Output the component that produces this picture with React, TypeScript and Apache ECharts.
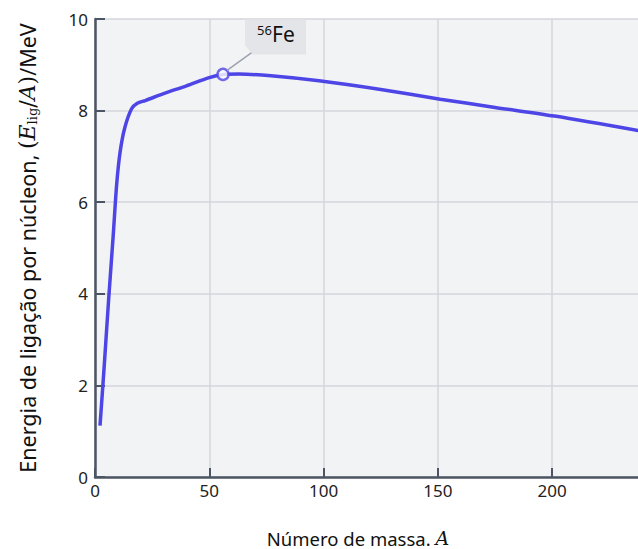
import React, { useEffect, useRef } from "react";
import * as echarts from "echarts";

const massNumbers = [2.2, 4, 6, 8, 9.5, 11, 13, 16, 18.5, 22, 30, 40, 50, 56, 63, 77, 98, 125, 151, 175, 201, 238];
const bindingEnergy = [1.12, 2.4, 3.9, 5.3, 6.4, 7.1, 7.62, 8.04, 8.16, 8.22, 8.37, 8.54, 8.72, 8.79, 8.80, 8.76, 8.65, 8.46, 8.25, 8.07, 7.88, 7.56];
const ironPoint = [56, 8.79];
const xTicks = [0, 50, 100, 150, 200, 250];
const yTicks = [0, 2, 4, 6, 8, 10];

const SANS = "'Noto Sans', 'Open Sans', sans-serif";
const SERIF = "'DejaVu Serif', 'Liberation Serif', serif";
const AXIS = "#4b5563";
const LINE = "#4d45e6";

export default function App() {
  const ref = useRef<HTMLDivElement>(null);
  useEffect(() => {
    const chart = echarts.init(ref.current!, null, { renderer: "svg" });
    const data = massNumbers.map((a, i) => [a, bindingEnergy[i]]);
    chart.setOption({
      animation: false,
      grid: {
        left: 95,
        top: 19,
        width: 571.5,
        height: 458,
        show: true,
        backgroundColor: "#f2f3f5",
        borderWidth: 0,
        containLabel: false,
        outerBoundsMode: "none",
      },
      xAxis: {
        type: "value",
        min: xTicks[0],
        max: xTicks[xTicks.length - 1],
        interval: 50,
        axisLine: { show: true, lineStyle: { color: AXIS, width: 2.5 } },
        axisTick: { show: true, inside: true, length: 9, lineStyle: { color: AXIS, width: 2 } },
        axisLabel: { color: "#222", fontSize: 17, fontFamily: SANS, margin: 5, showMaxLabel: false },
        splitLine: { show: true, lineStyle: { color: "#d4d6db", width: 1.5 } },
      },
      yAxis: {
        type: "value",
        min: yTicks[0],
        max: yTicks[yTicks.length - 1],
        interval: 2,
        axisLine: { show: true, lineStyle: { color: AXIS, width: 2.5 } },
        axisTick: { show: true, inside: true, length: 10, lineStyle: { color: AXIS, width: 2 } },
        axisLabel: { color: "#222", fontSize: 17, fontFamily: SANS, margin: 7 },
        splitLine: { show: true, lineStyle: { color: "#d4d6db", width: 1.5 } },
      },
      series: [
        {
          type: "line",
          data,
          smooth: 0.3,
          symbol: "none",
          lineStyle: { color: LINE, width: 3.5 },
          z: 3,
        },
        {
          type: "scatter",
          data: [ironPoint],
          symbol: "circle",
          symbolSize: 11,
          itemStyle: { color: "#ffffff", borderColor: LINE, borderWidth: 2.5 },
          z: 5,
        },
      ],
    });
    const [px, py] = chart.convertToPixel({ gridIndex: 0 }, ironPoint) as number[];
    chart.setOption({
      graphic: [
        {
          type: "line",
          shape: { x1: px + 4, y1: py - 4, x2: px + 29, y2: py - 22 },
          style: { stroke: "#9ca3af", lineWidth: 1.5 },
          z: 10,
        },
        {
          type: "polygon",
          shape: {
            points: [
              [px + 22, py - 55],
              [px + 83, py - 55],
              [px + 83, py - 20],
              [px + 30, py - 20],
              [px + 22, py - 29],
            ],
          },
          style: { fill: "#e4e5e8" },
          z: 10,
        },
        {
          type: "text",
          x: px + 34,
          y: py - 51,
          style: { text: "56", fontSize: 13, fontFamily: SANS, fill: "#111" },
          z: 11,
        },
        {
          type: "text",
          x: px + 49,
          y: py - 51,
          style: { text: "Fe", fontSize: 21, fontFamily: SANS, fill: "#111" },
          z: 11,
        },
        {
          type: "text",
          x: 358,
          y: 538,
          style: {
            text: "Número de massa. {it|A}",
            fontSize: 18.5,
            fontFamily: SANS,
            fill: "#111",
            align: "center",
            verticalAlign: "middle",
            rich: {
              it: { fontSize: 19, fontFamily: SERIF, fontStyle: "italic", fill: "#111" },
            },
          },
        },
        {
          type: "text",
          x: 27,
          y: 248,
          rotation: Math.PI / 2,
          style: {
            text: "Energia de ligação por núcleon, {se|(}{it|E}{sub|lig}{se|/}{it|A}{se|)}/MeV",
            fontSize: 21.5,
            fontFamily: SANS,
            fill: "#111",
            align: "center",
            verticalAlign: "middle",
            rich: {
              se: { fontSize: 22, fontFamily: SERIF, fill: "#111" },
              it: { fontSize: 22, fontFamily: SERIF, fontStyle: "italic", fill: "#111" },
              sub: { fontSize: 13, fontFamily: SERIF, fill: "#111", verticalAlign: "bottom", padding: [10, 0, 0, 0] },
            },
          },
        },
      ],
    });
    return () => chart.dispose();
  }, []);
  return (
    <div
      ref={ref}
      style={{ position: "absolute", left: 0, top: 0, width: 638, height: 549, background: "#fff" }}
    />
  );
}
